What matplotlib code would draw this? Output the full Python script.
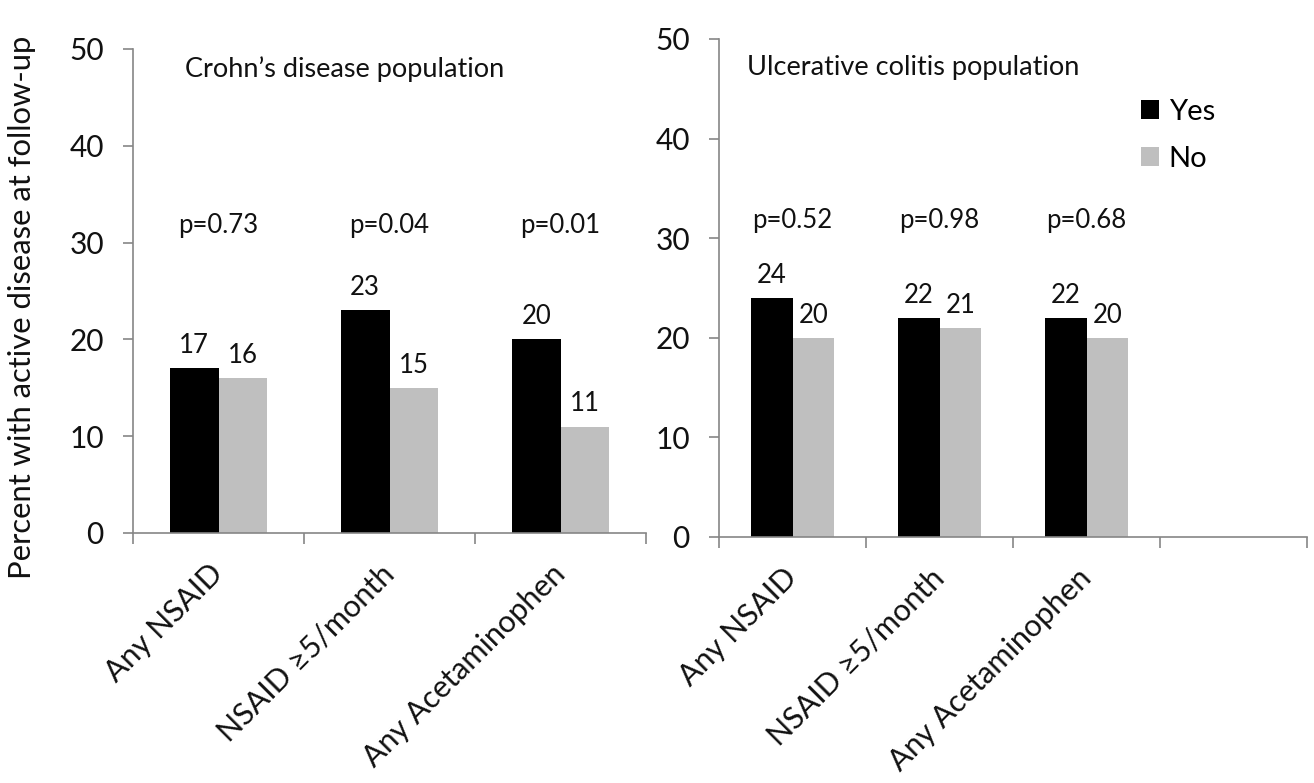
import matplotlib
matplotlib.use("Agg")
import matplotlib.pyplot as plt
from matplotlib.patches import Patch
import numpy as np

plt.rcParams['font.family'] = ['Lato', 'DejaVu Sans']

categories = ["Any NSAID", "NSAID \u22655/month", "Any Acetaminophen"]
cd_yes = [17, 23, 20]
cd_no = [16, 15, 11]
cd_p = ["p=0.73", "p=0.04", "p=0.01"]
uc_yes = [24, 22, 22]
uc_no = [20, 21, 20]
uc_p = ["p=0.52", "p=0.98", "p=0.68"]
series_names = ["Yes", "No"]
titles = ["Crohn\u2019s disease population", "Ulcerative colitis population"]
ylabel = "Percent with active disease at follow-up"
yticks = [0, 10, 20, 30, 40, 50]

BLACK = "#000000"
GRAY = "#bfbfbf"
SPINE = "#868686"
TXT = "#111111"

fig = plt.figure(figsize=(13.14, 7.83), dpi=100)
W, H = 1314, 783

def axes_px(x0, x1, y_top, y_bot):
    return fig.add_axes([x0 / W, 1 - y_bot / H, (x1 - x0) / W, (y_bot - y_top) / H])

ax1 = axes_px(133, 646, 49, 533)
ax2 = axes_px(719, 1307, 39, 537)

bw = 0.285

def draw(ax, yes, no, pvals, ncat, title, tx, ty):
    idx = np.arange(len(yes)) + 0.5
    b1 = ax.bar(idx - bw / 2, yes, width=bw, color=BLACK, zorder=2)
    b2 = ax.bar(idx + bw / 2, no, width=bw, color=GRAY, zorder=2)
    for bars in (b1, b2):
        for r in bars:
            ax.annotate(f"{r.get_height():.0f}", (r.get_x() + r.get_width() / 2, r.get_height()),
                        xytext=(0, 11), textcoords="offset points", ha="center", va="baseline",
                        fontsize=18.5, color=TXT)
    for i, p in enumerate(pvals):
        ax.text(idx[i], 31, p, ha="center", va="baseline", fontsize=18.5, color=TXT)
    ax.set_xlim(0, ncat)
    ax.set_ylim(0, 50)
    ax.set_yticks(yticks)
    ax.set_xticks(np.arange(ncat + 1))
    ax.set_xticklabels([])
    ax.set_xticks(idx, minor=True)
    ax.set_xticklabels(categories, minor=True, rotation=45, ha="right", va="center",
                       rotation_mode="anchor", fontsize=22, color=TXT)
    ax.tick_params(axis="x", which="minor", length=0, pad=26)
    ax.tick_params(axis="x", which="major", length=8, width=1.2, color=SPINE, direction="out")
    ax.tick_params(axis="y", length=7, width=1.2, color=SPINE, direction="out", pad=14,
                   labelsize=21.5, labelcolor=TXT)
    for s in ("top", "right"):
        ax.spines[s].set_visible(False)
    for s in ("left", "bottom"):
        ax.spines[s].set_color(SPINE)
        ax.spines[s].set_linewidth(1.2)
    ax.text(tx, ty, title, transform=ax.transAxes, fontsize=19.5, color=TXT, va="baseline", ha="left")

draw(ax1, cd_yes, cd_no, cd_p, 3, titles[0], 0.101, 0.942)
draw(ax2, uc_yes, uc_no, uc_p, 4, titles[1], 0.048, 0.928)

fig.text(22 / W, 1 - 307 / H, ylabel, rotation=90, ha="center", va="center", fontsize=22.3, color=TXT)

handles = [Patch(facecolor=BLACK), Patch(facecolor=GRAY)]
fig.legend(handles, series_names, loc="upper left", bbox_to_anchor=(1141 / W, 1 - 99 / H),
           frameon=False, fontsize=21, handlelength=0.6, handleheight=0.6, handletextpad=0.35,
           labelspacing=0.71, borderaxespad=0, borderpad=0)

fig.savefig("out.png", dpi=100)
